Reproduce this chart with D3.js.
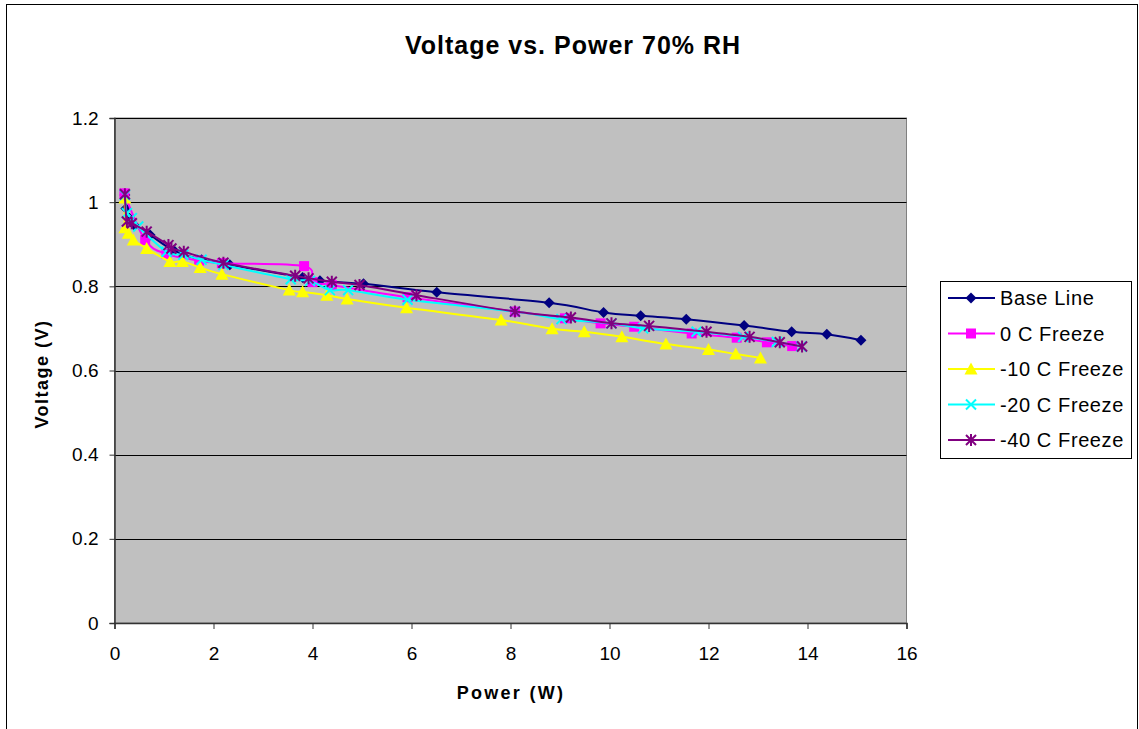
<!DOCTYPE html>
<html><head><meta charset="utf-8">
<script src="https://cdn.jsdelivr.net/npm/d3@7"></script>
<style>body{margin:0;background:#fff}svg{display:block;font-family:"Liberation Sans",Arial,sans-serif}</style>
</head><body><svg id="c" width="1139" height="729"></svg>
<script>
const title = "Voltage vs. Power 70% RH";
const xLabel = "Power (W)";
const yLabel = "Voltage (V)";
const xTicks = [0,2,4,6,8,10,12,14,16];
const yTicks = [0,0.2,0.4,0.6,0.8,1,1.2];
const seriesNames = ["Base Line","0 C Freeze","-10 C Freeze","-20 C Freeze","-40 C Freeze"];
const seriesColors = ["#000080","#FF00FF","#FFFF00","#00FFFF","#800080"];
const seriesMarkers = ["diamond","square","triangle","x","star"];

const baseP = [0.21,0.23,0.30,0.40,0.72,1.20,1.76,2.33,3.80,4.15,5.03,6.51,8.78,9.88,10.63,11.55,12.72,13.68,14.39,15.08];
const baseV = [1.017,0.985,0.962,0.945,0.922,0.885,0.863,0.851,0.821,0.813,0.806,0.786,0.761,0.738,0.730,0.722,0.707,0.692,0.686,0.672];

const c0P = [0.20,0.62,1.05,1.71,2.17,3.83,4.00,4.39,5.92,8.09,9.10,9.82,10.50,11.66,12.57,13.18,13.69];
const c0V = [1.021,0.910,0.877,0.861,0.855,0.848,0.810,0.803,0.774,0.740,0.724,0.712,0.704,0.688,0.678,0.667,0.658];

const c10P = [0.21,0.21,0.28,0.38,0.65,1.12,1.37,1.73,2.17,3.53,3.80,4.29,4.70,5.90,7.81,8.84,9.49,10.25,11.14,12.00,12.55,13.05];
const c10V = [1.010,0.939,0.926,0.910,0.890,0.859,0.859,0.845,0.829,0.791,0.787,0.779,0.770,0.749,0.720,0.699,0.692,0.680,0.663,0.650,0.639,0.630];

const c20P = [0.21,0.25,0.35,0.48,1.05,1.39,1.76,2.20,3.56,3.95,4.35,4.72,5.92,8.09,9.03,10.04,10.68,11.76,12.70,13.38,13.88];
const c20V = [1.017,0.974,0.962,0.942,0.882,0.875,0.863,0.851,0.817,0.813,0.791,0.791,0.768,0.740,0.722,0.712,0.700,0.692,0.680,0.668,0.657];

const c40P = [0.21,0.25,0.35,0.65,1.09,1.15,1.40,2.20,3.65,3.92,4.39,4.95,6.10,8.09,9.22,10.04,10.80,11.96,12.83,13.44,13.89];
const c40V = [1.019,0.954,0.950,0.930,0.898,0.890,0.882,0.856,0.825,0.819,0.811,0.803,0.779,0.740,0.726,0.712,0.706,0.692,0.680,0.667,0.657];

const seriesP = [baseP,c0P,c10P,c20P,c40P];
const seriesV = [baseV,c0V,c10V,c20V,c40V];

const svg = d3.select("#c");
const L=114.5, R=906.5, T=118, B=623;
const x = d3.scaleLinear().domain([0,16]).range([L,R]);
const y = d3.scaleLinear().domain([0,1.2]).range([B,T]);

svg.append("rect").attr("x",6.5).attr("y",4.5).attr("width",1131).attr("height",740)
  .attr("fill","none").attr("stroke","#000").attr("stroke-width",1);

svg.append("text").attr("x",573).attr("y",54).attr("text-anchor","middle")
  .attr("font-weight","bold").attr("font-size",25).attr("letter-spacing",1).text(title);

svg.append("rect").attr("x",L).attr("y",T).attr("width",R-L).attr("height",B-T)
  .attr("fill","#C0C0C0").attr("stroke","#808080").attr("stroke-width",1);

svg.append("g").selectAll("line").data(yTicks.filter(d=>d>0)).join("line")
  .attr("x1",L).attr("x2",R).attr("y1",d=>Math.round(y(d))+0.5).attr("y2",d=>Math.round(y(d))+0.5)
  .attr("stroke","#000").attr("stroke-width",1);

const yAxis = d3.axisLeft(y).tickValues(yTicks).tickSize(5).tickPadding(11).tickFormat(d3.format("~g"));
const gy = svg.append("g").attr("transform",`translate(${L},0)`).call(yAxis);
const xAxis = d3.axisBottom(x).tickValues(xTicks).tickSize(6).tickPadding(18).tickFormat(d3.format("d"));
const gx = svg.append("g").attr("transform",`translate(0,${B})`).call(xAxis);
[gx,gy].forEach(g=>{
  g.select(".domain").attr("stroke","#333").attr("stroke-width",1.5);
  g.selectAll(".tick line").attr("stroke","#333");
  g.selectAll("text").attr("font-size",19).attr("fill","#000").attr("font-family","Liberation Sans, Arial, sans-serif");
});
gx.selectAll("text").attr("dy","0.71em");

svg.append("text").attr("x",511).attr("y",699).attr("text-anchor","middle")
  .attr("font-weight","bold").attr("font-size",18).attr("letter-spacing",2.3).text(xLabel);
svg.append("text").attr("transform","translate(48,374) rotate(-90)").attr("text-anchor","middle")
  .attr("font-weight","bold").attr("font-size",18).attr("letter-spacing",1.5).text(yLabel);

function drawMarker(g, type, color, cx, cy){
  if(type==="diamond"){
    const s=5.5;
    g.append("path").attr("d",`M${cx},${cy-s}L${cx+s},${cy}L${cx},${cy+s}L${cx-s},${cy}Z`).attr("fill",color);
  } else if(type==="square"){
    g.append("rect").attr("x",cx-5).attr("y",cy-5).attr("width",10).attr("height",10).attr("fill",color);
  } else if(type==="triangle"){
    g.append("path").attr("d",`M${cx},${cy-6.5}L${cx+6.5},${cy+5.5}L${cx-6.5},${cy+5.5}Z`).attr("fill",color);
  } else if(type==="x"){
    g.append("path").attr("d",`M${cx-5},${cy-5}L${cx+5},${cy+5}M${cx-5},${cy+5}L${cx+5},${cy-5}`).attr("stroke",color).attr("stroke-width",2);
  } else if(type==="star"){
    g.append("path").attr("d",`M${cx-5},${cy-5}L${cx+5},${cy+5}M${cx-5},${cy+5}L${cx+5},${cy-5}M${cx},${cy-6}L${cx},${cy+6}`).attr("stroke",color).attr("stroke-width",2);
  }
}

const line = d3.line().curve(d3.curveCatmullRom.alpha(0));

seriesNames.forEach((name,i)=>{
  const pts = seriesP[i].map((p,j)=>[x(p), y(seriesV[i][j])]);
  const g = svg.append("g");
  g.append("path").attr("d",line(pts)).attr("fill","none").attr("stroke",seriesColors[i]).attr("stroke-width",2);
  pts.forEach(pt=>drawMarker(g, seriesMarkers[i], seriesColors[i], pt[0], pt[1]));
});

const lg = svg.append("g");
lg.append("rect").attr("x",940.5).attr("y",281.5).attr("width",191).attr("height",177).attr("fill","#fff").attr("stroke","#000");
seriesNames.forEach((name,i)=>{
  const yy = 298 + i*35.5;
  lg.append("line").attr("x1",948).attr("x2",995).attr("y1",yy).attr("y2",yy).attr("stroke",seriesColors[i]).attr("stroke-width",2);
  drawMarker(lg, seriesMarkers[i], seriesColors[i], 971, yy);
  lg.append("text").attr("x",1000).attr("y",yy).attr("dy","0.36em").attr("font-size",20).attr("letter-spacing",0.6).text(name);
});
</script></body></html>
